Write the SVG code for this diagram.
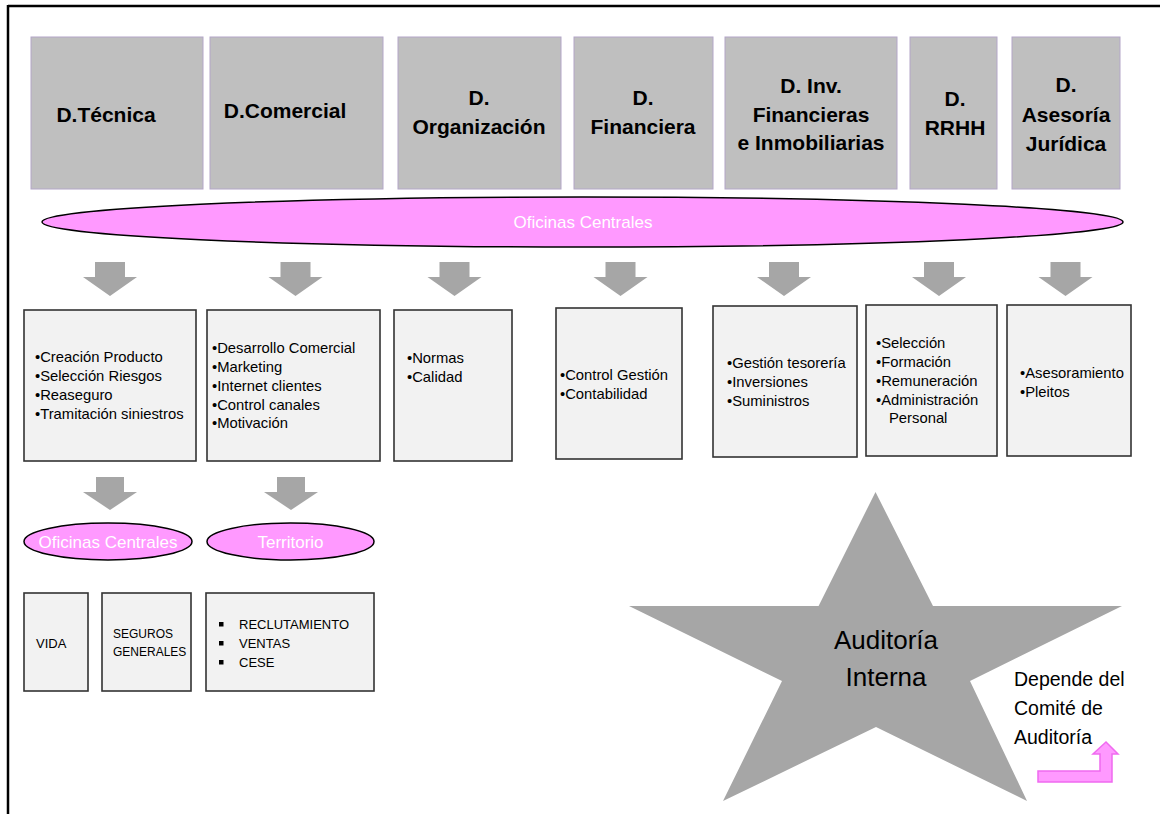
<svg xmlns="http://www.w3.org/2000/svg" width="1160" height="814" viewBox="0 0 1160 814">
<style>
.dir{fill:#bfbfbf;stroke:#b3a6c8;stroke-width:1}
.dt{font-family:"Liberation Sans",Arial,sans-serif;font-weight:bold;font-size:21px;fill:#000;text-anchor:middle}
.box{fill:#f2f2f2;stroke:#333;stroke-width:1.6}
.bt{font-family:"Liberation Sans",Arial,sans-serif;font-size:14.8px;fill:#000}
.ct{font-family:"Liberation Sans",Arial,sans-serif;font-size:13px;fill:#000}
.cs{font-family:"Liberation Sans",Arial,sans-serif;font-size:12px;fill:#000}
.ell{fill:#ff99ff;stroke:#000;stroke-width:1.5}
.et{font-family:"Liberation Sans",Arial,sans-serif;font-size:17px;fill:#fff;text-anchor:middle}
.arr{fill:#a6a6a6}
.nt{font-family:"Liberation Sans",Arial,sans-serif;font-size:19.5px;fill:#000}
.st{font-family:"Liberation Sans",Arial,sans-serif;font-size:26px;fill:#000;text-anchor:middle}
</style>
<rect x="0" y="0" width="1160" height="814" fill="#fff"/>
<g id="frame">
<line x1="8" y1="6" x2="1160" y2="6" stroke="#000" stroke-width="2.5"/>
<line x1="8" y1="5" x2="8" y2="814" stroke="#000" stroke-width="2.5"/>
</g>
<g id="d-tecnica"><rect class="dir" x="31" y="37" width="172" height="152"/><text class="dt" x="106" y="122">D.Técnica</text></g>
<g id="d-comercial"><rect class="dir" x="210" y="37" width="173" height="152"/><text class="dt" x="285" y="118">D.Comercial</text></g>
<g id="d-organizacion"><rect class="dir" x="398" y="37" width="163" height="152"/><text class="dt" x="479" y="105">D.</text><text class="dt" x="479" y="134">Organización</text></g>
<g id="d-financiera"><rect class="dir" x="574" y="37" width="139" height="152"/><text class="dt" x="643" y="105">D.</text><text class="dt" x="643" y="134">Financiera</text></g>
<g id="d-inv"><rect class="dir" x="725" y="37" width="172" height="152"/><text class="dt" x="811" y="93">D. Inv.</text><text class="dt" x="811" y="122">Financieras</text><text class="dt" x="811" y="150">e Inmobiliarias</text></g>
<g id="d-rrhh"><rect class="dir" x="910" y="37" width="87" height="152"/><text class="dt" x="955" y="106">D.</text><text class="dt" x="955" y="135">RRHH</text></g>
<g id="d-asesoria"><rect class="dir" x="1012" y="37" width="108" height="152"/><text class="dt" x="1066" y="92">D.</text><text class="dt" x="1066" y="122">Asesoría</text><text class="dt" x="1066" y="151">Jurídica</text></g>
<g id="oficinas-centrales"><ellipse class="ell" cx="582.5" cy="222" rx="540.5" ry="25"/><text class="et" x="583" y="228">Oficinas Centrales</text></g>
<g id="connectors">
<polygon class="arr" points="95,262 125,262 125,277 137,277 110,296 83,277 95,277"/>
<polygon class="arr" points="280.5,262 310.5,262 310.5,277 322.5,277 295.5,296 268.5,277 280.5,277"/>
<polygon class="arr" points="439.5,262 469.5,262 469.5,277 481.5,277 454.5,296 427.5,277 439.5,277"/>
<polygon class="arr" points="605.5,262 635.5,262 635.5,277 647.5,277 620.5,296 593.5,277 605.5,277"/>
<polygon class="arr" points="769,262 799,262 799,277 811,277 784,296 757,277 769,277"/>
<polygon class="arr" points="924,262 954,262 954,277 966,277 939,296 912,277 924,277"/>
<polygon class="arr" points="1050.5,262 1080.5,262 1080.5,277 1092.5,277 1065.5,296 1038.5,277 1050.5,277"/>
<polygon class="arr" points="96,477 124,477 124,492 137,492 110,510 83,492 96,492"/>
<polygon class="arr" points="277,477 305,477 305,492 318,492 291,510 264,492 277,492"/>
<polygon points="1038,771 1100,771 1100,754 1093,754 1106,742 1118,754 1112,754 1112,782 1038,782" fill="#ff99ff" stroke="#f06af0" stroke-width="1.5"/>
</g>
<g id="box-tecnica"><rect class="box" x="24" y="310" width="172" height="151"/>
<text class="bt" x="35" y="362">•Creación Producto</text><text class="bt" x="35" y="381">•Selección Riesgos</text><text class="bt" x="35" y="400">•Reaseguro</text><text class="bt" x="35" y="419">•Tramitación siniestros</text></g>
<g id="box-comercial"><rect class="box" x="207" y="310" width="173" height="151"/>
<text class="bt" x="212" y="353">•Desarrollo Comercial</text><text class="bt" x="212" y="372">•Marketing</text><text class="bt" x="212" y="391">•Internet clientes</text><text class="bt" x="212" y="410">•Control canales</text><text class="bt" x="212" y="428">•Motivación</text></g>
<g id="box-organizacion"><rect class="box" x="394" y="310" width="118" height="151"/>
<text class="bt" x="407" y="363">•Normas</text><text class="bt" x="407" y="382">•Calidad</text></g>
<g id="box-financiera"><rect class="box" x="556" y="308" width="126" height="151"/>
<text class="bt" x="560" y="380">•Control Gestión</text><text class="bt" x="560" y="399">•Contabilidad</text></g>
<g id="box-inversiones"><rect class="box" x="713" y="306" width="144" height="151"/>
<text class="bt" x="727" y="368">•Gestión tesorería</text><text class="bt" x="727" y="387">•Inversiones</text><text class="bt" x="727" y="406">•Suministros</text></g>
<g id="box-rrhh"><rect class="box" x="866" y="305" width="131" height="151"/>
<text class="bt" x="876" y="348">•Selección</text><text class="bt" x="876" y="367">•Formación</text><text class="bt" x="876" y="386">•Remuneración</text><text class="bt" x="876" y="405">•Administración</text><text class="bt" x="889" y="423">Personal</text></g>
<g id="box-asesoria"><rect class="box" x="1007" y="305" width="124" height="151"/>
<text class="bt" x="1020" y="378">•Asesoramiento</text><text class="bt" x="1020" y="397">•Pleitos</text></g>
<g id="ofc-small"><ellipse class="ell" cx="108" cy="541.5" rx="84" ry="18.5"/><text class="et" x="108" y="547.5">Oficinas Centrales</text></g>
<g id="territorio"><ellipse class="ell" cx="290.5" cy="541.5" rx="83.5" ry="18.5"/><text class="et" x="290.5" y="547.5">Territorio</text></g>
<g id="box-vida"><rect class="box" x="24" y="593" width="64" height="98"/><text class="ct" x="36" y="648">VIDA</text></g>
<g id="box-generales"><rect class="box" x="102" y="593" width="89" height="98"/><text class="cs" x="113" y="638">SEGUROS</text><text class="cs" x="113" y="656">GENERALES</text></g>
<g id="box-territorio"><rect class="box" x="206" y="593" width="168" height="98"/>
<rect x="219" y="622" width="4.5" height="4.5" fill="#000"/><text class="ct" x="239" y="629">RECLUTAMIENTO</text>
<rect x="219" y="641" width="4.5" height="4.5" fill="#000"/><text class="ct" x="239" y="648">VENTAS</text>
<rect x="219" y="660" width="4.5" height="4.5" fill="#000"/><text class="ct" x="239" y="667">CESE</text></g>
<g id="auditoria"><polygon points="875.5,492 933,606 1122,606 970,681 1027,801 876,727 723,801 782,681 629,606 818.6,606" fill="#a6a6a6"/>
<text class="st" x="886" y="649">Auditoría</text>
<text class="st" x="886" y="686">Interna</text></g>
<g id="nota"><text class="nt" x="1014" y="686">Depende del</text>
<text class="nt" x="1014" y="715">Comité de</text>
<text class="nt" x="1014" y="744">Auditoría</text></g>
</svg>
